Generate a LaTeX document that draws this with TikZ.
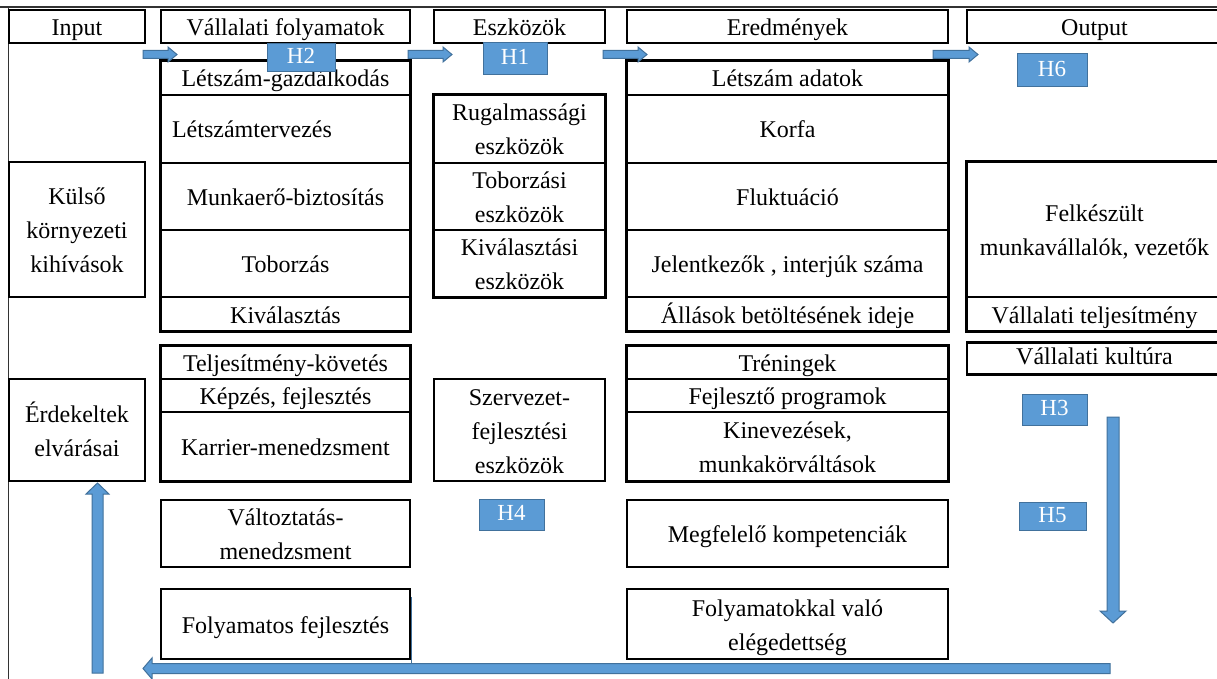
\documentclass[tikz,border=0pt]{standalone}
\usepackage{fontspec}
\setmainfont{Liberation Serif}
\definecolor{hfill}{HTML}{5B9BD5}
\definecolor{hdraw}{HTML}{41719C}
\newcommand\cs{\rule[-6pt]{0pt}{30pt}}
\newcommand\csk{\rule[-10pt]{0pt}{32pt}}
\newcommand\csh{\rule[-5pt]{0pt}{22pt}}
\tikzset{
  cell/.style={draw=black, line width=1.8pt, inner sep=0pt, align=center,
    font=\fontsize{24}{34}\selectfont},
  outline/.style={draw=black, line width=2.6pt},
  hlabel/.style={fill=hfill, draw=hdraw, line width=1pt, inner sep=0pt, text=white,
    font=\fontsize{23}{26}\selectfont},
  blockarrow/.style={fill=hfill, draw=hdraw, line width=1pt, line join=miter},
  frame/.style={draw=black!80, line width=1.6pt}
}
\newcommand\cellbox[7][]{%
  \node[cell,#1, minimum width={(#5)-(#3)}, minimum height={(#6)-(#4)}]
    (#2) at ({((#3)+(#5))/2},{((#4)+(#6))/2}) {\cs #7};}
\newcommand\hlab[6]{%
  \node[hlabel, minimum width={(#4)-(#2)}, minimum height={(#5)-(#3)}]
    (#1) at ({((#2)+(#4))/2},{((#3)+(#5))/2}) {\csh #6};}
\begin{document}
\begin{tikzpicture}[x=1pt,y=-1pt]
\useasboundingbox (0,0) rectangle (1217,679);
\clip (0,0) rectangle (1217,679);
\fill[white] (0,0) rectangle (1217,679);
% outer frame
\draw[frame] (0,7) -- (1217,7);
\draw[frame] (8.5,7) -- (8.5,679);
% headers
\cellbox[outline]{hin}{9}{10}{145}{43}{Input}
\cellbox[outline]{hvf}{161}{10}{410}{43}{Vállalati folyamatok}
\cellbox[outline]{hesz}{434}{10}{605}{43}{Eszközök}
\cellbox[outline]{hered}{627}{10}{948}{43}{Eredmények}
\cellbox[outline]{hout}{967}{10}{1222}{43}{Output}
% input column
\cellbox[outline]{kulso}{9}{162}{145}{297}{Külső\\\cs környezeti\\\cs kihívások}
\cellbox[outline]{erd}{9}{379}{145}{481}{Érdekeltek\\\cs elvárásai}
% column 2
\cellbox{lg}{161}{61}{410}{95}{Létszám-gazdálkodás}
\cellbox{lt}{161}{95}{410}{163}{\hspace*{-67pt}Létszámtervezés}
\cellbox{mb}{161}{163}{410}{230}{Munkaerő-biztosítás}
\cellbox{tob}{161}{230}{410}{297}{Toborzás}
\cellbox{kiv}{161}{297}{410}{331}{Kiválasztás}
\draw[outline] (lg.north west) rectangle (kiv.south east);
\cellbox{tk}{161}{346}{410}{379}{Teljesítmény-követés}
\cellbox{kf}{161}{379}{410}{412}{Képzés, fejlesztés}
\cellbox{km}{161}{412}{410}{481}{Karrier-menedzsment}
\draw[outline] (tk.north west) rectangle (km.south east);
\cellbox[outline]{vm}{161}{500}{410}{567}{Változtatás-\\\cs menedzsment}
\cellbox[outline]{ff}{161}{589}{410}{659}{Folyamatos fejlesztés}
\draw[draw=hdraw, line width=1pt] (411.5,597) -- (411.5,663);
% column 3
\cellbox{rug}{434}{95}{605}{163}{Rugalmassági\\\cs eszközök}
\cellbox{tobe}{434}{163}{605}{230}{Toborzási\\\cs eszközök}
\cellbox{kive}{434}{230}{605}{297}{Kiválasztási\\\cs eszközök}
\draw[outline] (rug.north west) rectangle (kive.south east);
\cellbox[outline]{szf}{434}{379}{605}{481}{Szervezet-\\\cs fejlesztési\\\cs eszközök}
% column 4
\cellbox{la}{627}{61}{948}{95}{Létszám adatok}
\cellbox{korfa}{627}{95}{948}{163}{Korfa}
\cellbox{fluk}{627}{163}{948}{230}{Fluktuáció}
\cellbox{jel}{627}{230}{948}{297}{Jelentkezők , interjúk száma}
\cellbox{all}{627}{297}{948}{331}{Állások betöltésének ideje}
\draw[outline] (la.north west) rectangle (all.south east);
\cellbox{tren}{627}{346}{948}{379}{Tréningek}
\cellbox{fp}{627}{379}{948}{412}{Fejlesztő programok}
\cellbox{kin}{627}{412}{948}{481}{Kinevezések,\\\cs munkakörváltások}
\draw[outline] (tren.north west) rectangle (kin.south east);
\cellbox[outline]{mk}{627}{500}{948}{567}{Megfelelő kompetenciák}
\cellbox[outline]{fve}{627}{589}{948}{659}{Folyamatokkal való\\\cs elégedettség}
% column 5
\cellbox{fels}{967}{162}{1222}{297}{Felkészült\\\cs munkavállalók, vezetők}
\cellbox{vt}{967}{297}{1222}{331}{Vállalati teljesítmény}
\draw[outline] (fels.north west) rectangle (vt.south east);
\node[cell, outline, minimum width=255, minimum height=25] (vk) at (1094.5,358.5) {\csk Vállalati kultúra};
% header arrows
\draw[blockarrow] (143,50.5) -- (168,50.5) -- (168,47) -- (177,54.5) -- (168,62) -- (168,58.5) -- (143,58.5) -- cycle;
\draw[blockarrow] (408,50.5) -- (443,50.5) -- (443,47) -- (452,54.5) -- (443,62) -- (443,58.5) -- (408,58.5) -- cycle;
\draw[blockarrow] (603,50.5) -- (638,50.5) -- (638,47) -- (647,54.5) -- (638,62) -- (638,58.5) -- (603,58.5) -- cycle;
\draw[blockarrow] (933,50.5) -- (969,50.5) -- (969,47) -- (978,54.5) -- (969,62) -- (969,58.5) -- (933,58.5) -- cycle;
% down arrow
\draw[blockarrow] (1107,417) -- (1119,417) -- (1119,611) -- (1126,611) -- (1113,623) -- (1100,611) -- (1107,611) -- cycle;
% bottom left arrow
\draw[blockarrow] (1110,663.5) -- (152,663.5) -- (152,658) -- (143,668.5) -- (152,679) -- (152,673.5) -- (1110,673.5) -- cycle;
% up arrow
\draw[blockarrow] (92,673) -- (92,494) -- (86,494) -- (97.5,483) -- (109,494) -- (103,494) -- (103,673) -- cycle;
% H labels
\hlab{h2}{267}{44}{335}{72}{H2}
\hlab{h1}{483}{43}{547}{75}{H1}
\hlab{h6}{1017}{54}{1087}{87}{H6}
\hlab{h3}{1022}{394}{1087}{425}{H3}
\hlab{h5}{1019}{502}{1086}{530}{H5}
\hlab{h4}{479}{499}{544}{530}{H4}
\end{tikzpicture}
\end{document}
